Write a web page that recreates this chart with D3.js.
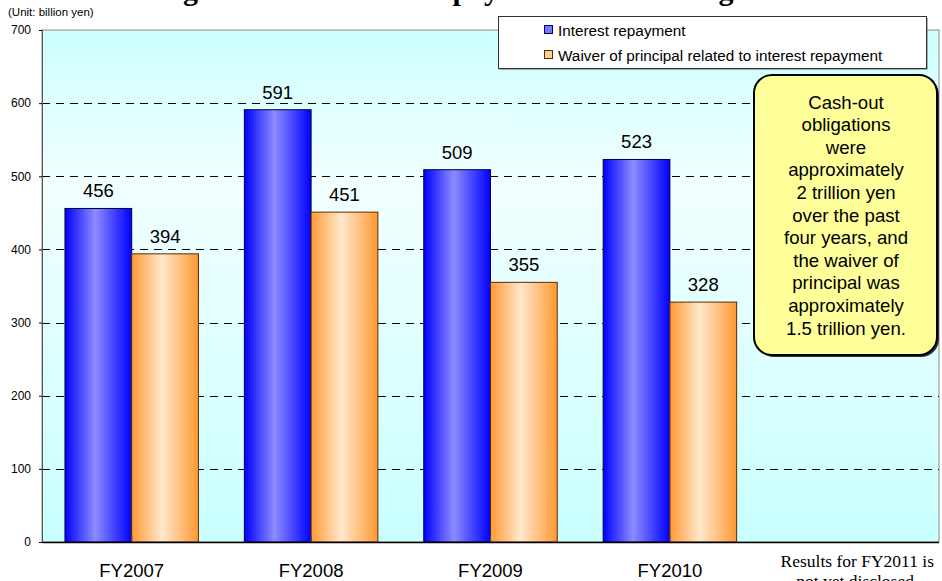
<!DOCTYPE html>
<html>
<head>
<meta charset="utf-8">
<script src="https://cdn.jsdelivr.net/npm/d3@7/dist/d3.min.js"></script>
<style>
  html, body { margin: 0; padding: 0; background: #ffffff; }
  svg { display: block; }
</style>
</head>
<body>
<script>
// Fiscal years on the x axis (FY2011 has no published results yet)
const categories = ["FY2007", "FY2008", "FY2009", "FY2010", "FY2011"];
// Billion yen
const interestRepayment = [456, 591, 509, 523, null];
const principalWaiver = [394, 451, 355, 328, null];
const seriesNames = ["Interest repayment", "Waiver of principal related to interest repayment"];
const yTicks = [0, 100, 200, 300, 400, 500, 600, 700];
const noteLines = ["Cash-out", "obligations", "were", "approximately", "2 trillion yen",
  "over the past", "four years, and", "the waiver of", "principal was",
  "approximately", "1.5 trillion yen."];
const footLines = ["Results for FY2011 is", "not yet disclosed."];
const titleText = "Changes in the Interest Repayment and Waiving";

const W = 942, H = 581;
const m = { left: 42, right: 3, top: 30, bottom: 39 };
const sans = "Arial, 'Liberation Sans', sans-serif";
const serif = "'Liberation Serif', 'Times New Roman', serif";
const svg = d3.select("body").append("svg").attr("width", W).attr("height", H);
const defs = svg.append("defs");

// Plot background: cyan, lighter in the upper middle
const bg = defs.append("linearGradient").attr("id", "bgGrad").attr("x1", 0).attr("y1", 0).attr("x2", 0).attr("y2", 1);
bg.append("stop").attr("offset", "0%").attr("stop-color", "#ccffff");
bg.append("stop").attr("offset", "30%").attr("stop-color", "#f2ffff");
bg.append("stop").attr("offset", "100%").attr("stop-color", "#c8ffff");

// Cylinder-like shading for the bars
function barGrad(id, edge, mid) {
  const g = defs.append("linearGradient").attr("id", id).attr("x1", 0).attr("y1", 0).attr("x2", 1).attr("y2", 0);
  g.append("stop").attr("offset", "0%").attr("stop-color", edge);
  g.append("stop").attr("offset", "45%").attr("stop-color", mid);
  g.append("stop").attr("offset", "100%").attr("stop-color", edge);
}
barGrad("blueGrad", "#0000ff", "#8c8cff");
barGrad("orangeGrad", "#ff9933", "#ffe8cc");

const x0 = d3.scaleBand().domain(categories).range([m.left, W - m.right]).padding(0);
const y = d3.scaleLinear().domain([0, 700]).range([H - m.bottom, m.top]);
const groupPad = 0.128;
const x1 = d3.scaleBand().domain([0, 1])
  .range([x0.bandwidth() * groupPad, x0.bandwidth() * (1 - groupPad)]).padding(0);

// Title (mostly above the page edge)
const title = svg.append("text").attr("x", 0).attr("y", 0)
  .attr("font-family", serif).attr("font-weight", "bold").attr("font-size", 30).attr("fill", "#000")
  .text(titleText);
const gPos = title.node().getStartPositionOfChar(titleText.indexOf("g")).x;
title.attr("x", 183 - gPos);

// Plot area
svg.append("rect").attr("x", m.left).attr("y", m.top)
  .attr("width", W - m.right - m.left).attr("height", H - m.bottom - m.top)
  .attr("fill", "url(#bgGrad)").attr("stroke", "#8a8a8a").attr("stroke-width", 1);

// Dashed gridlines
svg.append("g").selectAll("line").data(yTicks.filter(d => d > 0 && d < 700)).join("line")
  .attr("x1", m.left).attr("x2", W - m.right)
  .attr("y1", d => Math.round(y(d)) + 0.5).attr("y2", d => Math.round(y(d)) + 0.5)
  .attr("stroke", "#000").attr("stroke-width", 1).attr("stroke-dasharray", "8,6");

// Y axis
const yAxis = svg.append("g").attr("transform", `translate(${m.left},0)`)
  .call(d3.axisLeft(y).tickValues(yTicks).tickSize(3).tickPadding(8).tickFormat(d3.format("d")));
yAxis.select(".domain").attr("stroke", "#555");
yAxis.selectAll("text").attr("font-family", sans).attr("font-size", 12).attr("fill", "#000");

// Bars with value labels
const series = [interestRepayment, principalWaiver];
const fills = ["url(#blueGrad)", "url(#orangeGrad)"];
const strokes = ["#000040", "#5a2d00"];
const barsG = svg.append("g");
series.forEach((vals, si) => {
  const data = categories.map((c, i) => ({ c, v: vals[i] })).filter(d => d.v != null);
  barsG.selectAll(null).data(data).join("rect")
    .attr("x", d => x0(d.c) + x1(si))
    .attr("y", d => y(d.v))
    .attr("width", x1.bandwidth())
    .attr("height", d => y(0) - y(d.v))
    .attr("fill", fills[si]).attr("stroke", strokes[si]).attr("stroke-width", 1);
  barsG.selectAll(null).data(data).join("text")
    .attr("x", d => x0(d.c) + x1(si) + x1.bandwidth() / 2)
    .attr("y", d => y(d.v) - 11)
    .attr("text-anchor", "middle")
    .attr("font-family", sans).attr("font-size", 18.5).attr("fill", "#000")
    .text(d => d.v);
});

// X axis baseline, separators and category labels
svg.append("line").attr("x1", m.left).attr("x2", W - m.right).attr("y1", y(0) + 0.5).attr("y2", y(0) + 0.5)
  .attr("stroke", "#000").attr("stroke-width", 1.5);
svg.append("g").selectAll("line").data(categories.slice(1)).join("line")
  .attr("x1", d => x0(d) - x0.bandwidth() / 2).attr("x2", d => x0(d) - x0.bandwidth() / 2)
  .attr("y1", y(0)).attr("y2", y(0) - 6).attr("stroke", "#444");
svg.append("g").selectAll("text").data(categories.slice(0, 4)).join("text")
  .attr("x", d => x0(d) + x0.bandwidth() / 2).attr("y", 577)
  .attr("text-anchor", "middle")
  .attr("font-family", sans).attr("font-size", 18.5).attr("fill", "#000")
  .text(d => d);

// Footnote under the empty FY2011 slot
svg.append("g").selectAll("text").data(footLines).join("text")
  .attr("x", x0("FY2011") + x0.bandwidth() / 2 + 8).attr("y", (d, i) => 567 + i * 20)
  .attr("text-anchor", "middle")
  .attr("font-family", serif).attr("font-size", 17.5).attr("fill", "#000")
  .text(d => d);

// Legend
const lg = svg.append("g").attr("transform", "translate(498,16)");
lg.append("rect").attr("x", 1.5).attr("y", 1.5).attr("width", 428).attr("height", 52).attr("fill", "#666");
lg.append("rect").attr("x", 0.5).attr("y", 0.5).attr("width", 428).attr("height", 52)
  .attr("fill", "#fff").attr("stroke", "#333").attr("stroke-width", 1);
const legFills = ["#7777ff", "#ffcc99"];
seriesNames.forEach((name, i) => {
  const cy = 14 + i * 25;
  lg.append("rect").attr("x", 46.5).attr("y", cy - 4.5).attr("width", 8).attr("height", 8)
    .attr("fill", legFills[i]).attr("stroke", i === 0 ? "#000060" : "#5a2d00").attr("stroke-width", 1);
  lg.append("text").attr("x", 60).attr("y", cy + 5.5)
    .attr("font-family", sans).attr("font-size", 15.3).attr("fill", "#000")
    .text(name);
});

// Callout note
const note = svg.append("g").attr("transform", "translate(754,75)");
note.append("rect").attr("x", 2).attr("y", 2).attr("width", 183).attr("height", 280).attr("rx", 18)
  .attr("fill", "#333");
note.append("rect").attr("width", 183).attr("height", 280).attr("rx", 18)
  .attr("fill", "#ffff99").attr("stroke", "#000").attr("stroke-width", 2);
note.selectAll("text").data(noteLines).join("text")
  .attr("x", 92).attr("y", (d, i) => 33.5 + i * 22.6)
  .attr("text-anchor", "middle")
  .attr("font-family", sans).attr("font-size", 18.6).attr("fill", "#000")
  .text(d => d);

// Unit label
svg.append("text").attr("x", 8).attr("y", 16)
  .attr("font-family", sans).attr("font-size", 11.5).attr("fill", "#000")
  .text("(Unit: billion yen)");
</script>
</body>
</html>
